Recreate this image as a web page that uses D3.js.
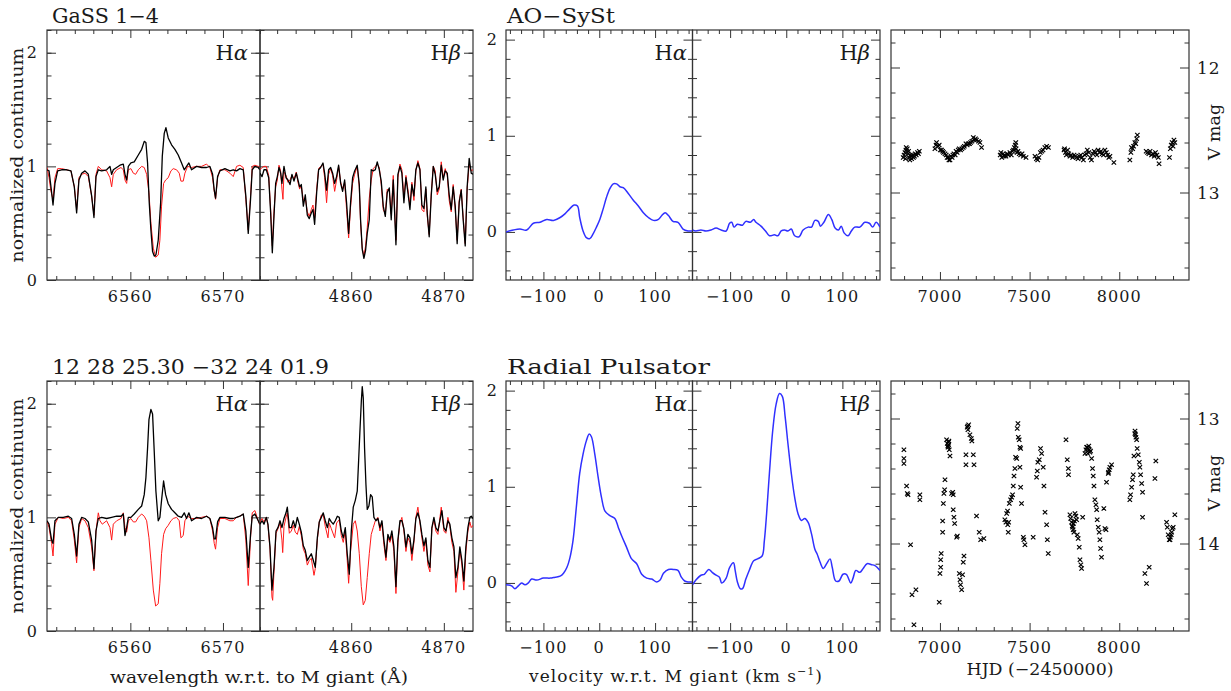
<!DOCTYPE html>
<html><head><meta charset="utf-8">
<script src="https://cdn.jsdelivr.net/npm/d3@7"></script>
<style>
body{margin:0;background:#fff}
svg{display:block}
text{font-family:"DejaVu Serif",serif;fill:#1a1a1a}
</style>
</head><body>
<svg id="c" width="1231" height="691"></svg>
<script>
// ---------------- DATA ----------------
const titles = ["GaSS 1\u22124", "AO\u2212SySt", "12 28 25.30 \u221232 24 01.9", "Radial Pulsator"];

// GaSS 1-4 : H-alpha (wavelength, normalized flux)
const gassHaBlack = [[6551.00,0.97],[6551.22,0.96],[6551.43,0.82],[6551.65,0.66],[6551.86,0.85],[6552.15,0.96],[6552.58,0.97],[6553.12,0.97],[6553.59,0.96],[6553.95,0.82],[6554.20,0.59],[6554.45,0.88],[6554.74,0.94],[6555.10,0.96],[6555.46,0.93],[6555.82,0.74],[6556.07,0.55],[6556.29,0.91],[6556.54,0.97],[6556.90,0.96],[6557.44,0.97],[6557.80,1.0],[6557.98,0.93],[6558.16,0.97],[6558.52,0.99],[6558.88,1.01],[6559.24,1.02],[6559.42,0.93],[6559.60,0.88],[6559.78,1.0],[6560.06,1.03],[6560.42,1.04],[6560.86,1.10],[6561.22,1.15],[6561.50,1.22],[6561.68,1.21],[6561.86,1.03],[6562.04,0.68],[6562.22,0.44],[6562.40,0.25],[6562.58,0.21],[6562.76,0.22],[6563.01,0.35],[6563.27,0.68],[6563.45,1.09],[6563.66,1.29],[6563.84,1.34],[6564.09,1.25],[6564.45,1.19],[6564.81,1.15],[6565.17,1.10],[6565.53,1.03],[6565.82,0.97],[6566.07,1.0],[6566.32,1.03],[6566.61,0.97],[6567.15,1.0],[6567.69,0.99],[6568.23,0.99],[6568.59,1.0],[6568.88,0.93],[6569.06,0.79],[6569.20,0.72],[6569.42,0.91],[6569.67,0.96],[6570.21,0.98],[6570.75,0.96],[6571.11,0.97],[6571.47,0.96],[6571.83,0.98],[6572.19,0.97],[6572.47,0.74],[6572.73,0.41],[6572.98,0.71],[6573.16,0.97],[6573.45,1.0],[6573.81,0.99],[6573.99,0.97]];
const gassHaRed = [[6551.00,0.99],[6551.22,0.90],[6551.43,0.78],[6551.65,0.71],[6551.86,0.90],[6552.15,0.98],[6552.58,0.98],[6553.12,0.97],[6553.59,0.96],[6553.95,0.82],[6554.20,0.62],[6554.45,0.90],[6554.74,0.93],[6555.10,0.94],[6555.46,0.91],[6555.82,0.74],[6556.07,0.57],[6556.29,0.93],[6556.54,1.0],[6556.90,0.97],[6557.44,0.96],[6557.80,0.90],[6557.98,0.82],[6558.16,0.93],[6558.52,0.97],[6558.99,0.99],[6559.24,0.97],[6559.42,0.88],[6559.60,0.85],[6559.78,0.97],[6560.06,0.98],[6560.32,0.94],[6560.57,0.93],[6560.86,0.97],[6561.22,1.0],[6561.50,0.99],[6561.76,0.93],[6562.01,0.77],[6562.22,0.50],[6562.48,0.28],[6562.73,0.20],[6563.01,0.22],[6563.19,0.35],[6563.37,0.65],[6563.59,0.85],[6563.81,0.88],[6564.09,0.90],[6564.38,0.96],[6564.63,0.98],[6564.99,0.97],[6565.28,0.94],[6565.46,0.87],[6565.71,0.87],[6565.89,0.94],[6566.18,1.0],[6566.61,0.99],[6567.15,1.0],[6567.69,1.0],[6568.23,1.02],[6568.59,0.99],[6568.88,0.90],[6569.06,0.78],[6569.20,0.71],[6569.42,0.90],[6569.67,0.97],[6570.21,0.97],[6570.75,0.94],[6571.11,0.91],[6571.47,1.0],[6571.83,1.01],[6572.19,0.99],[6572.47,0.71],[6572.73,0.44],[6572.98,0.74],[6573.16,1.0],[6573.45,1.01],[6573.81,1.0],[6573.99,1.0]];
// GaSS 1-4 : H-beta
const gassHbBlack = [[4850.15,0.94],[4850.37,0.91],[4850.58,0.97],[4850.83,0.97],[4851.09,0.90],[4851.30,0.59],[4851.48,0.24],[4851.66,0.56],[4851.84,0.85],[4852.02,0.91],[4852.20,0.99],[4852.38,0.94],[4852.52,0.85],[4852.74,1.0],[4852.96,0.90],[4853.17,0.88],[4853.39,0.84],[4853.60,0.93],[4853.82,0.87],[4854.07,0.94],[4854.25,0.88],[4854.43,0.82],[4854.61,0.84],[4854.83,0.65],[4855.04,0.75],[4855.26,0.57],[4855.47,0.54],[4855.69,0.59],[4855.87,0.62],[4856.05,0.49],[4856.27,0.77],[4856.48,0.97],[4856.70,0.99],[4856.95,1.03],[4857.13,0.94],[4857.34,0.79],[4857.56,0.97],[4857.78,0.99],[4857.99,0.94],[4858.21,0.85],[4858.42,0.91],[4858.64,1.01],[4858.86,0.85],[4859.07,0.78],[4859.29,0.88],[4859.50,0.68],[4859.72,0.41],[4859.93,0.68],[4860.15,0.90],[4860.37,0.96],[4860.65,1.01],[4860.87,0.84],[4861.01,0.53],[4861.19,0.27],[4861.37,0.19],[4861.55,0.26],[4861.73,0.41],[4861.95,0.53],[4862.16,0.97],[4862.38,0.96],[4862.60,0.97],[4862.81,1.04],[4863.03,0.97],[4863.24,0.87],[4863.46,0.65],[4863.68,0.56],[4863.89,0.77],[4864.11,0.81],[4864.32,0.53],[4864.54,0.88],[4864.83,0.31],[4865.04,0.93],[4865.26,1.0],[4865.47,0.94],[4865.69,0.68],[4865.91,0.90],[4866.12,0.77],[4866.34,0.62],[4866.55,0.84],[4866.77,0.74],[4866.98,0.97],[4867.20,1.03],[4867.42,0.97],[4867.63,0.66],[4867.85,0.63],[4868.06,0.82],[4868.21,0.59],[4868.42,0.38],[4868.64,0.74],[4868.86,1.0],[4869.07,0.93],[4869.29,0.78],[4869.50,0.82],[4869.72,1.01],[4869.93,0.88],[4870.15,0.96],[4870.37,0.94],[4870.58,0.75],[4870.80,0.62],[4871.01,0.82],[4871.23,0.65],[4871.44,0.32],[4871.66,0.68],[4871.88,0.79],[4872.09,0.53],[4872.31,0.30],[4872.52,0.82],[4872.74,1.07],[4872.96,0.94],[4873.14,0.93]];
const gassHbRed = [[4850.15,0.97],[4850.37,0.99],[4850.58,1.0],[4850.83,1.0],[4851.09,0.92],[4851.30,0.62],[4851.48,0.30],[4851.66,0.60],[4851.84,0.82],[4852.02,0.88],[4852.20,1.01],[4852.38,0.96],[4852.52,0.80],[4852.63,0.71],[4852.74,0.95],[4852.96,0.92],[4853.17,0.86],[4853.39,0.88],[4853.60,0.92],[4853.82,0.89],[4854.07,0.95],[4854.25,0.86],[4854.43,0.80],[4854.61,0.83],[4854.83,0.70],[4855.04,0.72],[4855.26,0.60],[4855.47,0.56],[4855.69,0.62],[4855.87,0.66],[4856.05,0.55],[4856.27,0.80],[4856.48,0.98],[4856.70,1.0],[4856.95,1.02],[4857.13,0.90],[4857.34,0.68],[4857.56,0.93],[4857.78,0.98],[4857.99,0.92],[4858.21,0.78],[4858.42,0.88],[4858.64,1.0],[4858.86,0.86],[4859.07,0.80],[4859.29,0.86],[4859.50,0.62],[4859.72,0.37],[4859.93,0.64],[4860.15,0.85],[4860.37,0.93],[4860.65,1.0],[4860.87,0.82],[4861.01,0.50],[4861.19,0.28],[4861.37,0.21],[4861.55,0.30],[4861.73,0.46],[4861.95,0.72],[4862.16,0.88],[4862.38,0.98],[4862.60,1.0],[4862.81,1.02],[4863.03,0.99],[4863.24,0.84],[4863.46,0.62],[4863.68,0.58],[4863.89,0.80],[4864.11,0.78],[4864.32,0.58],[4864.54,0.92],[4864.83,0.35],[4865.04,0.90],[4865.26,1.02],[4865.47,0.97],[4865.69,0.72],[4865.91,0.92],[4866.12,0.80],[4866.34,0.66],[4866.55,0.86],[4866.77,0.70],[4866.98,0.96],[4867.20,1.05],[4867.42,0.98],[4867.63,0.62],[4867.85,0.60],[4868.06,0.80],[4868.21,0.56],[4868.42,0.40],[4868.64,0.76],[4868.86,1.0],[4869.07,0.96],[4869.29,0.75],[4869.50,0.80],[4869.72,1.04],[4869.93,0.90],[4870.15,0.98],[4870.37,0.92],[4870.58,0.70],[4870.80,0.60],[4871.01,0.84],[4871.23,0.62],[4871.44,0.35],[4871.66,0.70],[4871.88,0.80],[4872.09,0.55],[4872.31,0.32],[4872.52,0.80],[4872.74,1.02],[4872.96,0.96],[4873.14,0.97]];

// 12 28 25.30 -32 24 01.9 : H-alpha
const rpHaBlack = [[6551.00,0.97],[6551.22,0.94],[6551.50,0.80],[6551.65,0.77],[6551.86,0.97],[6552.22,1.0],[6552.76,1.0],[6553.30,1.01],[6553.66,0.99],[6553.95,0.85],[6554.20,0.66],[6554.45,0.94],[6554.74,1.0],[6555.10,0.99],[6555.46,0.96],[6555.82,0.80],[6556.07,0.55],[6556.29,0.88],[6556.54,0.99],[6556.90,1.0],[6557.44,0.99],[6557.98,1.0],[6558.52,1.01],[6558.99,1.01],[6559.24,1.03],[6559.42,0.84],[6559.60,0.91],[6559.78,1.0],[6560.06,1.0],[6560.42,1.03],[6560.86,1.07],[6561.22,1.10],[6561.50,1.20],[6561.68,1.35],[6561.86,1.61],[6562.01,1.86],[6562.22,1.95],[6562.40,1.91],[6562.58,1.58],[6562.76,1.23],[6563.01,0.97],[6563.19,1.0],[6563.37,1.15],[6563.59,1.32],[6563.81,1.20],[6564.09,1.12],[6564.45,1.07],[6564.81,1.04],[6565.17,1.01],[6565.53,1.0],[6565.82,1.04],[6566.07,0.99],[6566.32,1.04],[6566.61,0.97],[6567.15,1.0],[6567.69,0.99],[6568.23,1.01],[6568.59,0.99],[6568.88,0.91],[6569.06,0.81],[6569.20,0.81],[6569.42,0.96],[6569.67,1.0],[6570.21,1.0],[6570.75,0.99],[6571.11,0.99],[6571.47,1.0],[6571.83,1.01],[6572.19,1.03],[6572.47,0.88],[6572.73,0.56],[6572.98,0.85],[6573.16,1.01],[6573.45,1.03],[6573.81,0.97],[6573.99,0.94]];
const rpHaRed = [[6551.00,0.97],[6551.22,0.91],[6551.50,0.77],[6551.65,0.66],[6551.86,0.94],[6552.22,1.0],[6552.76,0.99],[6553.30,1.0],[6553.66,0.97],[6553.95,0.80],[6554.20,0.60],[6554.45,0.91],[6554.74,0.99],[6555.10,0.97],[6555.46,0.91],[6555.82,0.74],[6556.07,0.53],[6556.29,0.88],[6556.54,1.04],[6556.72,0.97],[6556.97,0.94],[6557.44,0.97],[6557.80,0.91],[6557.98,0.80],[6558.16,0.94],[6558.52,0.97],[6558.99,0.99],[6559.24,1.04],[6559.42,0.91],[6559.60,0.87],[6559.78,0.97],[6560.06,0.99],[6560.32,0.96],[6560.57,0.96],[6560.86,1.0],[6561.22,1.03],[6561.50,1.01],[6561.76,0.97],[6562.01,0.82],[6562.22,0.62],[6562.48,0.36],[6562.73,0.22],[6563.01,0.24],[6563.19,0.42],[6563.37,0.68],[6563.59,0.85],[6563.81,0.90],[6564.09,0.93],[6564.38,0.97],[6564.63,0.99],[6564.99,1.0],[6565.28,0.97],[6565.46,0.82],[6565.71,0.84],[6565.89,0.97],[6566.18,1.01],[6566.61,0.99],[6567.15,0.99],[6567.69,1.0],[6568.23,1.01],[6568.59,0.99],[6568.88,0.88],[6569.06,0.77],[6569.20,0.72],[6569.42,0.91],[6569.67,0.99],[6570.21,0.99],[6570.75,0.97],[6571.11,0.97],[6571.47,1.0],[6571.83,1.01],[6572.19,1.03],[6572.47,0.80],[6572.73,0.40],[6572.98,0.82],[6573.16,1.04],[6573.45,1.06],[6573.81,0.97],[6573.99,0.93]];
// 12 28 25.30 -32 24 01.9 : H-beta
const rpHbBlack = [[4850.15,0.94],[4850.37,0.97],[4850.58,0.94],[4850.83,1.0],[4851.01,0.94],[4851.23,0.74],[4851.44,0.36],[4851.66,0.56],[4851.88,0.88],[4852.09,0.91],[4852.31,0.97],[4852.52,0.91],[4852.74,0.99],[4852.96,1.04],[4853.10,1.09],[4853.32,0.91],[4853.53,0.91],[4853.75,0.97],[4853.96,0.91],[4854.18,1.0],[4854.39,0.94],[4854.61,0.87],[4854.83,0.75],[4855.04,0.71],[4855.26,0.62],[4855.47,0.65],[4855.69,0.68],[4855.91,0.62],[4856.12,0.56],[4856.34,0.82],[4856.55,0.96],[4856.77,1.0],[4856.98,1.04],[4857.20,0.97],[4857.42,0.91],[4857.63,0.99],[4857.85,0.96],[4858.06,0.94],[4858.28,0.97],[4858.50,1.01],[4858.71,1.0],[4858.93,0.88],[4859.14,0.82],[4859.36,0.91],[4859.57,0.68],[4859.79,0.50],[4860.01,0.88],[4860.22,1.09],[4860.44,1.15],[4860.65,1.23],[4860.80,1.50],[4860.94,1.76],[4861.09,2.02],[4861.19,2.15],[4861.30,2.05],[4861.44,1.61],[4861.59,1.29],[4861.73,1.07],[4861.91,1.10],[4862.09,1.20],[4862.27,1.18],[4862.45,1.0],[4862.67,0.97],[4862.88,0.99],[4863.10,0.91],[4863.32,0.97],[4863.53,0.80],[4863.75,0.65],[4863.96,0.85],[4864.18,0.80],[4864.39,0.88],[4864.61,0.74],[4864.83,0.39],[4865.04,0.80],[4865.26,0.97],[4865.47,0.97],[4865.69,0.90],[4865.91,0.74],[4866.12,0.85],[4866.34,0.82],[4866.55,0.68],[4866.77,0.80],[4866.98,0.99],[4867.20,1.04],[4867.42,0.97],[4867.63,0.85],[4867.85,0.75],[4868.06,0.82],[4868.28,0.62],[4868.50,0.56],[4868.71,0.91],[4868.93,1.0],[4869.14,0.91],[4869.36,0.88],[4869.57,0.97],[4869.79,1.06],[4870.01,0.91],[4870.22,0.88],[4870.44,0.97],[4870.65,0.94],[4870.87,0.82],[4871.09,0.74],[4871.30,0.47],[4871.52,0.56],[4871.73,0.74],[4871.95,0.62],[4872.16,0.44],[4872.38,0.74],[4872.60,0.91],[4872.81,1.0],[4872.96,1.01],[4873.14,0.99]];
const rpHbRed = [[4850.15,0.96],[4850.37,0.99],[4850.58,0.96],[4850.83,1.0],[4851.01,0.93],[4851.23,0.72],[4851.44,0.30],[4851.52,0.27],[4851.66,0.52],[4851.88,0.86],[4852.09,0.90],[4852.31,0.95],[4852.52,0.80],[4852.60,0.69],[4852.74,0.92],[4852.96,1.0],[4853.10,1.04],[4853.32,0.86],[4853.53,0.88],[4853.75,0.93],[4853.96,0.87],[4854.18,0.85],[4854.39,0.92],[4854.61,0.84],[4854.83,0.72],[4855.04,0.68],[4855.26,0.58],[4855.47,0.62],[4855.69,0.64],[4855.98,0.49],[4856.12,0.55],[4856.34,0.80],[4856.55,0.96],[4856.77,1.02],[4856.98,1.02],[4857.20,0.92],[4857.49,0.82],[4857.63,0.95],[4857.85,0.90],[4858.21,0.82],[4858.42,0.95],[4858.71,0.98],[4858.93,0.84],[4859.14,0.78],[4859.36,0.88],[4859.57,0.62],[4859.72,0.42],[4859.93,0.70],[4860.22,0.94],[4860.44,0.97],[4860.65,0.88],[4860.87,0.68],[4861.09,0.39],[4861.30,0.23],[4861.52,0.27],[4861.73,0.47],[4861.95,0.68],[4862.16,0.85],[4862.38,0.91],[4862.60,0.97],[4862.88,1.0],[4863.10,0.88],[4863.32,0.95],[4863.53,0.76],[4863.75,0.62],[4863.96,0.82],[4864.18,0.78],[4864.39,0.84],[4864.61,0.70],[4864.83,0.33],[4865.04,0.78],[4865.26,0.95],[4865.47,1.0],[4865.69,0.88],[4865.91,0.70],[4866.12,0.82],[4866.34,0.78],[4866.55,0.62],[4866.77,0.78],[4866.98,1.0],[4867.20,1.09],[4867.42,0.95],[4867.63,0.82],[4867.85,0.70],[4868.06,0.80],[4868.28,0.58],[4868.50,0.52],[4868.71,0.90],[4868.93,0.98],[4869.14,0.88],[4869.36,0.85],[4869.72,1.09],[4870.01,0.88],[4870.22,0.86],[4870.44,1.0],[4870.65,0.92],[4870.87,0.78],[4871.09,0.70],[4871.30,0.34],[4871.52,0.52],[4871.73,0.72],[4871.95,0.58],[4872.16,0.36],[4872.38,0.70],[4872.60,0.88],[4872.81,0.96],[4872.96,0.91],[4873.14,0.93]];

// AO-SySt template (velocity km/s, flux)
const aoHa = [[-167,0.0],[-154,0.02],[-142,0.03],[-130,0.02],[-118,0.09],[-106,0.10],[-94,0.13],[-82,0.12],[-70,0.15],[-61,0.19],[-53,0.24],[-45,0.28],[-39,0.27],[-35,0.15],[-29,0.01],[-23,-0.06],[-17,-0.07],[-11,-0.02],[-5,0.05],[1,0.13],[7,0.24],[13,0.36],[19,0.45],[25,0.50],[31,0.50],[37,0.47],[43,0.46],[52,0.40],[61,0.33],[70,0.27],[79,0.20],[88,0.15],[97,0.12],[106,0.13],[112,0.17],[118,0.20],[124,0.17],[132,0.11],[141,0.10],[150,0.03],[159,0.01],[167,0.01]];
const aoHb = [[-167,0.02],[-161,0.01],[-152,0.02],[-143,0.01],[-134,0.02],[-125,0.04],[-116,0.02],[-107,0.01],[-101,0.09],[-97,0.10],[-93,0.05],[-87,0.08],[-78,0.07],[-72,0.11],[-64,0.10],[-58,0.13],[-54,0.10],[-45,0.06],[-37,0.01],[-30,-0.04],[-21,-0.03],[-15,-0.04],[-9,0.01],[-3,0.02],[3,0.01],[9,0.03],[15,-0.04],[23,-0.05],[30,0.02],[39,0.05],[45,0.05],[51,0.12],[57,0.11],[61,0.06],[67,0.10],[75,0.18],[81,0.13],[87,0.04],[93,0.02],[98,0.06],[103,-0.01],[110,-0.04],[116,0.01],[122,0.05],[131,0.05],[140,0.10],[148,0.09],[154,0.05],[160,0.10],[167,0.05]];
// Radial pulsator template
const rpVelHa = [[-167,-0.02],[-157,-0.03],[-151,-0.06],[-145,-0.03],[-139,0.0],[-133,-0.02],[-127,0.0],[-121,0.04],[-112,0.03],[-100,0.05],[-88,0.05],[-79,0.06],[-70,0.07],[-64,0.10],[-58,0.16],[-53,0.25],[-47,0.44],[-41,0.79],[-35,1.14],[-29,1.34],[-23,1.48],[-18,1.55],[-14,1.52],[-8,1.34],[-2,1.10],[4,0.89],[10,0.75],[19,0.70],[28,0.67],[34,0.58],[40,0.49],[49,0.37],[58,0.25],[67,0.20],[76,0.09],[85,0.05],[94,0.04],[103,0.01],[109,0.03],[115,0.10],[124,0.14],[132,0.14],[141,0.13],[147,0.06],[153,0.02],[159,0.01],[166,0.01]];
const rpVelHb = [[-167,-0.02],[-161,0.03],[-152,0.08],[-146,0.09],[-138,0.14],[-132,0.11],[-125,0.08],[-119,0.06],[-115,0.0],[-107,0.05],[-101,0.16],[-94,0.21],[-91,0.13],[-87,0.01],[-82,-0.06],[-78,-0.06],[-72,0.04],[-66,0.13],[-58,0.23],[-51,0.25],[-43,0.28],[-39,0.44],[-35,0.72],[-30,1.14],[-24,1.59],[-18,1.86],[-12,1.97],[-7,1.94],[-2,1.73],[3,1.45],[9,1.14],[15,0.89],[21,0.72],[27,0.65],[33,0.67],[39,0.63],[45,0.51],[51,0.35],[55,0.30],[60,0.22],[66,0.15],[72,0.20],[78,0.25],[82,0.16],[88,0.02],[94,0.02],[101,0.09],[107,0.09],[115,0.0],[119,0.05],[124,0.13],[131,0.11],[137,0.15],[144,0.20],[152,0.19],[158,0.18],[167,0.13]];

// Light curves (HJD-2450000, V mag)
const gassPhot = [[6795,12.72],[6800,12.70],[6805,12.68],[6808,12.73],[6810,12.66],[6812,12.64],[6818,12.65],[6822,12.69],[6825,12.67],[6828,12.72],[6832,12.74],[6835,12.70],[6838,12.71],[6842,12.73],[6848,12.70],[6852,12.72],[6858,12.71],[6862,12.69],[6868,12.70],[6875,12.68],[6880,12.69],[6885,12.67],
[6972,12.65],[6978,12.62],[6981,12.60],[6990,12.63],[6996,12.62],[7002,12.66],[7009,12.66],[7015,12.67],[7020,12.68],[7028,12.69],[7035,12.70],[7040,12.72],[7046,12.72],[7050,12.74],[7056,12.74],[7062,12.71],[7068,12.72],[7072,12.70],[7078,12.69],[7085,12.70],[7090,12.67],[7096,12.68],[7102,12.66],[7108,12.65],[7115,12.66],[7122,12.65],[7130,12.64],[7136,12.63],[7145,12.61],[7152,12.62],[7158,12.61],[7165,12.61],[7171,12.60],[7178,12.59],[7186,12.56],[7192,12.58],[7198,12.57],[7204,12.58],[7215,12.59],[7223,12.60],[7232,12.64],
[7336,12.70],[7340,12.68],[7345,12.72],[7352,12.69],[7358,12.71],[7360,12.70],[7368,12.71],[7375,12.69],[7382,12.70],[7390,12.68],[7398,12.70],[7405,12.67],[7410,12.66],[7415,12.64],[7420,12.62],[7423,12.60],[7425,12.65],[7430,12.68],[7435,12.67],[7442,12.69],[7450,12.70],[7458,12.69],[7465,12.71],[7480,12.72],
[7530,12.71],[7538,12.73],[7545,12.74],[7552,12.72],[7560,12.68],[7568,12.67],[7575,12.66],[7585,12.64],[7595,12.63],[7605,12.64],
[7692,12.66],[7695,12.65],[7700,12.68],[7705,12.70],[7712,12.66],[7718,12.69],[7725,12.71],[7732,12.70],[7740,12.72],[7748,12.70],[7755,12.71],[7762,12.72],[7770,12.73],[7778,12.71],[7785,12.70],[7792,12.72],[7800,12.74],[7808,12.70],[7815,12.69],[7822,12.66],[7830,12.68],[7838,12.72],[7845,12.74],[7852,12.69],[7860,12.67],[7868,12.68],[7875,12.70],[7882,12.66],[7890,12.68],[7898,12.67],[7905,12.69],[7912,12.70],[7920,12.66],[7928,12.68],[7935,12.70],[7942,12.72],[7948,12.71],[7970,12.76],
[8059,12.74],[8065,12.68],[8068,12.64],[8075,12.65],[8080,12.63],[8087,12.60],[8092,12.61],[8097,12.57],[8101,12.54],
[8150,12.67],[8158,12.68],[8165,12.69],[8172,12.67],[8180,12.70],[8188,12.69],[8195,12.71],[8202,12.68],[8210,12.70],[8218,12.72],[8222,12.77],
[8280,12.72],[8285,12.65],[8290,12.62],[8295,12.60],[8300,12.63],[8305,12.58],[8310,12.60]];
const rpPhot = [[6799,13.25],[6799,13.32],[6799,13.36],[6814,13.54],[6818,13.60],[6822,13.61],[6836,14.01],[6844,14.41],[6866,14.37],[6855,14.65],[6888,13.65],[6888,13.61],
[6996,14.47],[7000,14.24],[7004,14.19],[7004,14.13],[7007,14.08],[7015,13.91],[7015,13.82],[7019,13.68],[7022,13.60],[7026,13.57],[7028,13.49],
[7037,13.17],[7041,13.20],[7045,13.23],[7048,13.19],[7052,13.25],[7056,13.30],[7048,13.21],[7050,13.18],[7044,13.22],
[7065,13.60],[7071,13.59],[7074,13.61],[7074,13.73],[7078,13.79],[7082,13.84],[7093,13.95],[7097,13.94],
[7108,14.24],[7112,14.29],[7115,14.33],[7121,14.37],[7126,14.25],[7130,14.15],[7134,14.10],
[7145,13.29],[7145,13.37],[7152,13.07],[7155,13.06],[7156,13.09],[7160,13.05],[7167,13.13],[7175,13.16],[7178,13.18],[7186,13.29],[7190,13.37],
[7204,13.78],[7219,13.91],[7227,13.97],[7245,13.96],
[7362,13.81],[7368,13.83],[7372,13.76],[7377,13.74],[7378,13.85],[7383,13.83],[7381,13.91],[7387,13.68],[7394,13.65],[7400,13.63],[7405,13.61],[7409,13.54],[7413,13.46],[7418,13.40],[7422,13.31],[7428,13.32],[7431,13.08],[7435,13.04],[7437,13.15],[7442,13.17],[7446,13.23],[7450,13.24],[7446,13.39],[7450,13.55],[7455,13.68],[7465,13.95],[7468,13.97],[7474,14.01],
[7520,13.95],[7539,13.47],[7543,13.42],[7546,13.35],[7554,13.33],[7561,13.24],[7567,13.28],[7576,13.39],[7580,13.54],[7586,13.75],[7595,13.85],[7599,13.97],[7604,14.08],
[7703,13.17],[7710,13.33],[7716,13.40],[7717,13.45],[7725,13.77],[7729,13.80],[7734,13.83],[7738,13.86],[7740,13.87],[7743,13.89],[7745,13.84],[7747,13.91],[7750,13.82],[7753,13.76],[7758,13.78],[7762,13.81],[7766,13.93],[7771,13.96],[7777,14.03],[7781,14.13],[7786,14.17],[7790,14.20],[7796,13.79],
[7809,13.28],[7814,13.25],[7818,13.23],[7822,13.23],[7824,13.28],[7827,13.24],[7830,13.22],[7833,13.25],[7836,13.27],[7840,13.26],[7846,13.32],[7851,13.40],[7855,13.46],[7859,13.54],[7864,13.65],[7870,13.69],[7874,13.73],[7877,13.81],[7883,13.87],[7888,13.91],[7892,13.97],[7896,14.04],[7901,14.11],[7914,13.72],[7920,13.88],[7926,13.89],[7929,13.51],[7939,13.44],[7940,13.43],[7944,13.41],[7948,13.39],[7957,13.37],
[8059,13.65],[8063,13.61],[8069,13.55],[8074,13.49],[8078,13.45],[8082,13.30],[8087,13.12],[8088,13.10],[8091,13.13],[8093,13.15],[8097,13.17],[8100,13.24],[8106,13.29],[8112,13.35],[8115,13.39],[8119,13.45],[8125,13.52],[8130,13.59],[8130,13.79],[8143,14.24],[8152,14.32],[8167,14.19],[8199,13.48],[8204,13.34],
[8264,13.83],[8268,13.87],[8273,13.93],[8279,13.97],[8283,13.97],[8285,13.95],[8290,13.93],[8292,13.91],[8296,13.88],[8301,13.87],[8310,13.77]];

// Ticks
const specYMajor = [0, 1, 2];
const specYMinor = [0.2,0.4,0.6,0.8,1.2,1.4,1.6,1.8,2.0,2.2];
const haXMajor = [6560, 6570];
const haXMinor = [6552,6554,6556,6558,6562,6564,6566,6568,6572,6574];
const hbXMajor = [4860, 4870];
const hbXMinor = [4852,4854,4856,4858,4862,4864,4866,4868,4872];
const velXMajor = [-100, 0, 100];
const velXMinor = [-160,-140,-120,-80,-60,-40,-20,20,40,60,80,120,140,160];
const velYMajor = [0, 1, 2];
const velYMinor = [-0.4,-0.2,0.2,0.4,0.6,0.8,1.2,1.4,1.6,1.8];
const hjdMajor = [7000, 7500, 8000];
const hjdMinor = [6800,6900,7100,7200,7300,7400,7600,7700,7800,7900,8100,8200,8300];
const magTopMajor = [12, 13];
const magTopMinor = [11.8,12.2,12.4,12.6,12.8,13.2,13.4,13.6];
const magBotMajor = [13, 14];
const magBotMinor = [12.8,13.2,13.4,13.6,13.8,14.2,14.4,14.6];

// ---------------- DRAW ----------------
const svg = d3.select("#c");
const ROWS = [{y0:30, y1:280}, {y0:381, y1:631}];
const C = {ha:[47,260], hb:[260,473], vha:[506,692.5], vhb:[692.5,880], ph:[891,1189]};
const FRAME = "#333";
let clipId = 0;

function tickSet(g, axisFn, vals, len, tr){
  g.append("g").attr("transform", tr)
    .call(axisFn.tickValues(vals).tickSize(-len).tickFormat(""))
    .call(a => { a.select(".domain").remove(); a.selectAll("line").attr("stroke", FRAME).attr("stroke-width", 1); a.selectAll("text").remove(); });
}

function panel(cols, row, xDom, yDom, xMaj, xMin, yMaj, yMin){
  const [x0,x1] = cols, {y0,y1} = row;
  const xs = d3.scaleLinear().domain(xDom).range([x0,x1]);
  const ys = d3.scaleLinear().domain(yDom).range([y1,y0]);
  const g = svg.append("g");
  tickSet(g, d3.axisBottom(xs), xMin, 4, `translate(0,${y1})`);
  tickSet(g, d3.axisBottom(xs), xMaj, 8, `translate(0,${y1})`);
  tickSet(g, d3.axisTop(xs), xMin, 4, `translate(0,${y0})`);
  tickSet(g, d3.axisTop(xs), xMaj, 8, `translate(0,${y0})`);
  tickSet(g, d3.axisLeft(ys), yMin, 4.5, `translate(${x0},0)`);
  tickSet(g, d3.axisLeft(ys), yMaj, 9, `translate(${x0},0)`);
  tickSet(g, d3.axisRight(ys), yMin, 4.5, `translate(${x1},0)`);
  tickSet(g, d3.axisRight(ys), yMaj, 9, `translate(${x1},0)`);
  g.append("rect").attr("x",x0).attr("y",y0).attr("width",x1-x0).attr("height",y1-y0)
    .attr("fill","none").attr("stroke",FRAME).attr("stroke-width",1.2);
  const id = "clip" + (clipId++);
  svg.append("clipPath").attr("id", id).append("rect").attr("x",x0).attr("y",y0).attr("width",x1-x0).attr("height",y1-y0);
  const plot = svg.append("g").attr("clip-path", `url(#${id})`);
  return {xs, ys, g, plot};
}

function drawLine(p, data, color, w, curve){
  const line = d3.line().x(d=>p.xs(d[0])).y(d=>p.ys(d[1])).curve(curve || d3.curveLinear);
  p.plot.append("path").datum(data).attr("d", line).attr("fill","none")
    .attr("stroke", color).attr("stroke-width", w).attr("stroke-linejoin","round");
}

function xLabels(p, vals, row, fmt){
  vals.forEach(v => svg.append("text").attr("x", p.xs(v)).attr("y", row.y1 + 22)
    .attr("text-anchor","middle").attr("font-size",16).attr("letter-spacing",1.1)
    .text(fmt ? fmt(v) : String(v).replace("-", "\u2212")));
}
function yLabels(p, vals, x, anchor){
  vals.forEach(v => svg.append("text").attr("x", x).attr("y", p.ys(v) + 5.5)
    .attr("text-anchor", anchor).attr("font-size",16).attr("letter-spacing",1.1)
    .text(String(v)));
}
function lineLabel(x, y, greek){
  const t = svg.append("text").attr("x",x).attr("y",y).attr("text-anchor","end").attr("font-size",21);
  t.append("tspan").text("H");
  t.append("tspan").attr("font-style","italic").text(greek);
}
function fitText(x, y, s, size, len, anchor){
  return svg.append("text").attr("x",x).attr("y",y).attr("font-size",size)
    .attr("text-anchor", anchor || "start").attr("textLength", len).attr("lengthAdjust","spacingAndGlyphs").text(s);
}

const spectra = [
  {row:ROWS[0], ha:[gassHaRed, gassHaBlack], hb:[gassHbRed, gassHbBlack], vha:aoHa, vhb:aoHb, phot:gassPhot, magDom:[11.7,13.7], magMaj:magTopMajor, magMin:magTopMinor, t1:titles[0], t2:titles[1], w1:107, w2:108},
  {row:ROWS[1], ha:[rpHaRed, rpHaBlack], hb:[rpHbRed, rpHbBlack], vha:rpVelHa, vhb:rpVelHb, phot:rpPhot, magDom:[12.7,14.7], magMaj:magBotMajor, magMin:magBotMinor, t1:titles[2], t2:titles[3], w1:277, w2:203}
];

spectra.forEach((s, i) => {
  const row = s.row;
  // wavelength panels
  const pa = panel(C.ha, row, [6551.0, 6574.0], [0, 2.2], haXMajor, haXMinor, specYMajor, specYMinor);
  const pb = panel(C.hb, row, [4850.15, 4873.15], [0, 2.2], hbXMajor, hbXMinor, specYMajor, specYMinor);
  drawLine(pa, s.ha[0], "#ff1a1a", 1.0);
  drawLine(pa, s.ha[1], "#000", 1.3);
  drawLine(pb, s.hb[0], "#ff1a1a", 1.0);
  drawLine(pb, s.hb[1], "#000", 1.3);
  xLabels(pa, haXMajor, row);
  xLabels(pb, hbXMajor, row);
  yLabels(pa, specYMajor, 38, "end");
  lineLabel(248, row.y0 + 30, "\u03b1");
  lineLabel(461, row.y0 + 30, "\u03b2");

  // velocity panels
  const va = panel(C.vha, row, [-167, 167], [-0.5, 2.1], velXMajor, velXMinor, velYMajor, velYMinor);
  const vb = panel(C.vhb, row, [-167, 167], [-0.5, 2.1], velXMajor, velXMinor, velYMajor, velYMinor);
  drawLine(va, s.vha, "#3030ff", 1.5, d3.curveCatmullRom.alpha(0.5));
  drawLine(vb, s.vhb, "#3030ff", 1.5, d3.curveCatmullRom.alpha(0.5));
  xLabels(va, velXMajor, row);
  xLabels(vb, velXMajor, row);
  yLabels(va, velYMajor, 498, "end");
  lineLabel(687, row.y0 + 30, "\u03b1");
  lineLabel(870, row.y0 + 30, "\u03b2");

  // photometry panel
  const pp = panel(C.ph, row, [6727, 8389], [0,1], hjdMajor, hjdMinor, [], []);
  // magnitude axis (inverted)
  const ms = d3.scaleLinear().domain(s.magDom).range([row.y0, row.y1]);
  const mg = svg.append("g");
  tickSet(mg, d3.axisLeft(ms), s.magMin, 4.5, `translate(${C.ph[0]},0)`);
  tickSet(mg, d3.axisLeft(ms), s.magMaj, 9, `translate(${C.ph[0]},0)`);
  tickSet(mg, d3.axisRight(ms), s.magMin, 4.5, `translate(${C.ph[1]},0)`);
  tickSet(mg, d3.axisRight(ms), s.magMaj, 9, `translate(${C.ph[1]},0)`);
  s.magMaj.forEach(v => svg.append("text").attr("x", 1197).attr("y", ms(v) + 6)
    .attr("font-size",17).attr("letter-spacing",1).text(String(v)));
  const r = 2.2;
  pp.plot.selectAll("path.pt").data(s.phot).enter().append("path").attr("class","pt")
    .attr("d", d => { const x = pp.xs(d[0]), y = ms(d[1]);
      return `M${x-r},${y-r}L${x+r},${y+r}M${x-r},${y+r}L${x+r},${y-r}`; })
    .attr("stroke","#000").attr("stroke-width",1.2).attr("fill","none");
  xLabels(pp, hjdMajor, row);

  // titles
  fitText(52, row.y0 - 7.5, s.t1, 20, s.w1);
  fitText(507, row.y0 - 7.5, s.t2, 20, s.w2);

  // side labels
  svg.append("text").attr("transform", `translate(23,${row.y0 + 125}) rotate(-90)`)
    .attr("text-anchor","middle").attr("font-size",17).attr("textLength",215).attr("lengthAdjust","spacingAndGlyphs").text("normalized continuum");
  svg.append("text").attr("transform", `translate(1220,${row.y0 + 102}) rotate(-90)`)
    .attr("text-anchor","middle").attr("font-size",17).attr("textLength",56).attr("lengthAdjust","spacingAndGlyphs").text("V mag");
});

// bottom axis titles
fitText(259, 683, "wavelength w.r.t. to M giant (\u00c5)", 17, 298, "middle");
const vt = svg.append("text").attr("x", 676).attr("y", 682).attr("text-anchor","middle").attr("font-size",17).attr("letter-spacing",1.0);
vt.append("tspan").text("velocity w.r.t. M giant (km s");
vt.append("tspan").attr("font-size",11).attr("dy",-7).text("\u22121");
vt.append("tspan").attr("dy",7).text(")");
fitText(1040, 675, "HJD (\u22122450000)", 17, 147, "middle");
</script>
</body></html>
